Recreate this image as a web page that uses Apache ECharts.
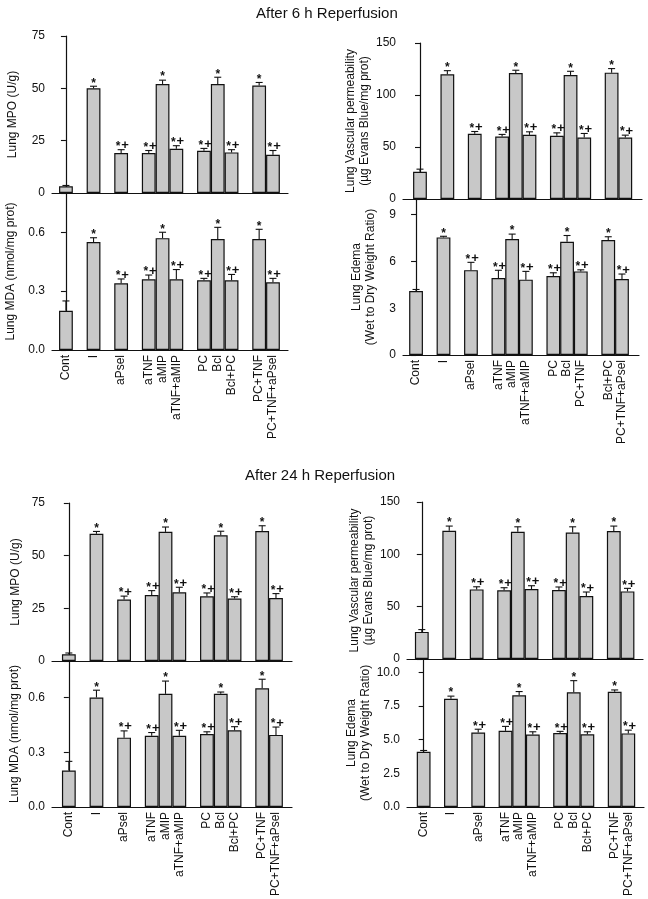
<!DOCTYPE html>
<html><head><meta charset="utf-8">
<script src="https://cdn.jsdelivr.net/npm/echarts@6/dist/echarts.min.js"></script>
<style>html,body{margin:0;padding:0;background:#fff}#c{width:648px;height:899px}</style>
</head><body><div id="c"></div><script>
// ---- data ----
const labelsA = ['Cont','I','aPsel','aTNF','aMIP','aTNF+aMIP','PC','Bcl','Bcl+PC','PC+TNF','PC+TNF+aPsel'];
const labelsB = ['Cont','I','aPsel','aTNF','aMIP','aTNF+aMIP','PC','Bcl','PC+TNF','Bcl+PC','PC+TNF+aPsel'];
const slots = [0,2,4,6,7,8,10,11,12,14,15];
const marks = ['', '*', '*+', '*+', '*', '*+', '*+', '*', '*+', '*', '*+'];

const mpo6 = [3.2, 50.0, 19.1, 19.1, 52.1, 21.1, 20.2, 52.1, 19.4, 51.3, 18.3];
const mpo6Err = [0.4, 1.0, 1.6, 1.2, 1.8, 1.5, 1.1, 3.2, 1.3, 1.5, 2.0];
const mda6 = [0.20, 0.55, 0.34, 0.36, 0.57, 0.36, 0.355, 0.565, 0.355, 0.565, 0.345];
const mda6Err = [0.05, 0.022, 0.022, 0.022, 0.03, 0.05, 0.01, 0.06, 0.03, 0.05, 0.02];
const perm6 = [26.2, 119.9, 62.7, 60.1, 121.2, 61.7, 60.8, 119.3, 59.2, 121.5, 59.2];
const perm6Err = [2.5, 3.5, 2.2, 2.0, 2.6, 2.9, 2.8, 3.5, 3.8, 3.9, 2.2];
const edema6 = [4.1, 7.54, 5.44, 4.93, 7.43, 4.83, 5.06, 7.26, 5.36, 7.37, 4.87];
const edema6Err = [0.1, 0.07, 0.5, 0.5, 0.32, 0.53, 0.21, 0.4, 0.1, 0.21, 0.32];

const mpo24 = [3.2, 60.4, 29.2, 31.3, 61.3, 32.6, 30.7, 59.7, 29.7, 61.7, 29.9];
const mpo24Err = [0.6, 1.1, 1.6, 2.1, 2.3, 2.4, 1.6, 1.9, 0.8, 2.5, 2.1];
const mda24 = [0.20, 0.60, 0.38, 0.39, 0.62, 0.39, 0.40, 0.62, 0.42, 0.65, 0.395];
const mda24Err = [0.05, 0.04, 0.037, 0.018, 0.07, 0.03, 0.012, 0.01, 0.02, 0.05, 0.043];
const perm24 = [25.9, 122.5, 66.5, 65.6, 121.5, 66.8, 65.9, 120.9, 60.1, 122.2, 64.6];
const perm24Err = [2.2, 4.5, 2.5, 2.5, 4.8, 3.2, 2.9, 5.4, 3.9, 4.8, 2.9];
const edema24 = [4.1, 8.04, 5.54, 5.66, 8.3, 5.38, 5.5, 8.52, 5.4, 8.56, 5.47];
const edema24Err = [0.1, 0.2, 0.24, 0.33, 0.28, 0.21, 0.12, 0.87, 0.19, 0.14, 0.24];

const ticksMPO = [0, 25, 50, 75];
const ticksMDA = [0, 0.3, 0.6];
const ticksPerm = [0, 50, 100, 150];
const ticksEdema6 = [0, 3, 6, 9];
const ticksEdema24 = [0, 2.5, 5, 7.5, 10];

const titles = ['After 6 h Reperfusion', 'After 24 h Reperfusion'];

// ---- layout ----
const FONT = '"Liberation Sans", Arial, Helvetica, sans-serif';
const panels = [
  {v: mpo6, e: mpo6Err, names: labelsA, yName: 'Lung MPO (U/g)', yMax: 75, ticks: ticksMPO, dec: 0, box: [52, 36, 236, 157], xr: [-1.01, 16.09], showX: false, gap: 32},
  {v: mda6, e: mda6Err, names: labelsA, yName: 'Lung MDA (nmol/mg prot)', yMax: 0.8, ticks: ticksMDA, dec: 1, box: [52, 193, 236, 157], xr: [-1.01, 16.09], showX: true, gap: 34},
  {v: perm6, e: perm6Err, names: labelsA, yName: 'Lung Vascular permeability\n(µg Evans Blue/mg prot)', yMax: 150, ticks: ticksPerm, dec: 0, box: [403, 43, 239, 156], xr: [-1.24, 16.22], showX: false, gap: 23},
  {v: edema6, e: edema6Err, names: labelsB, yName: 'Lung Edema\n(Wet to Dry Weight Ratio)', yMax: 10, ticks: ticksEdema6, dec: 0, box: [403, 199, 236, 156], xr: [-0.95, 16.24], showX: true, gap: 25},
  {v: mpo24, e: mpo24Err, names: labelsA, yName: 'Lung MPO (U/g)', yMax: 75, ticks: ticksMPO, dec: 0, box: [52, 503, 240, 158], xr: [-1.22, 16.16], showX: false, gap: 29},
  {v: mda24, e: mda24Err, names: labelsA, yName: 'Lung MDA (nmol/mg prot)', yMax: 0.8, ticks: ticksMDA, dec: 1, box: [52, 661, 240, 157], xr: [-1.22, 16.16], showX: true, gap: 30},
  {v: perm24, e: perm24Err, names: labelsA, yName: 'Lung Vascular permeability\n(µg Evans Blue/mg prot)', yMax: 150, ticks: ticksPerm, dec: 0, box: [407, 502, 236, 157], xr: [-1.08, 16.13], showX: false, gap: 30},
  {v: edema24, e: edema24Err, names: labelsA, yName: 'Lung Edema\n(Wet to Dry Weight Ratio)', yMax: 11, ticks: ticksEdema24, dec: 1, box: [407, 659, 237, 156], xr: [-1.22, 16.15], showX: true, gap: 31}
];

const grid = [], xAxis = [], yAxis = [], series = [];
panels.forEach((p, i) => {
  grid.push({left: p.box[0], top: p.box[1], width: p.box[2], height: p.box[3], containLabel: false});
  xAxis.push({
    type: 'value', gridIndex: i, min: p.xr[0], max: p.xr[1],
    splitLine: {show: false}, axisTick: {show: false},
    axisLine: {show: true, lineStyle: {color: '#111', width: 1.2}},
    axisLabel: {
      show: p.showX, customValues: slots, rotate: 90, margin: 5,
      fontFamily: FONT, fontSize: 12, color: '#111',
      formatter: (val) => { const k = slots.indexOf(Math.round(val)); return k >= 0 ? p.names[k] : ''; }
    }
  });
  yAxis.push({
    type: 'value', gridIndex: i, min: 0, max: p.yMax,
    splitLine: {show: false},
    axisLine: {show: true, lineStyle: {color: '#111', width: 1.2}},
    axisTick: {show: true, customValues: p.ticks, length: 5, lineStyle: {color: '#111', width: 1.1}},
    axisLabel: {customValues: p.ticks, margin: 7, fontFamily: FONT, fontSize: 12, color: '#111',
      formatter: (val) => Number(val).toFixed(p.dec)},
    name: p.yName, nameLocation: 'middle', nameGap: p.gap, nameRotate: 90,
    nameTextStyle: {fontFamily: FONT, fontSize: 12, color: '#111', lineHeight: 14}
  });
  series.push({
    type: 'bar', xAxisIndex: i, yAxisIndex: i, barWidth: 13.8, silent: true,
    itemStyle: {color: '#c8c8c8', borderColor: '#111', borderWidth: 1.2},
    data: p.v.map((y, k) => [slots[k], y]), z: 2
  });
  series.push({
    type: 'custom', xAxisIndex: i, yAxisIndex: i, silent: true, z: 3,
    data: p.v.map((y, k) => [slots[k], y, p.e[k]]),
    renderItem: (params, api) => {
      const x = api.value(0), y = api.value(1), e = api.value(2);
      const p0 = api.coord([x, y]), p1 = api.coord([x, y + e]);
      const m = marks[params.dataIndex];
      const st = {stroke: '#111', lineWidth: 1.1};
      const ch = [
        {type: 'line', shape: {x1: p0[0], y1: p0[1], x2: p1[0], y2: p1[1]}, style: st},
        {type: 'line', shape: {x1: p1[0] - 3.5, y1: p1[1], x2: p1[0] + 3.5, y2: p1[1]}, style: st}
      ];
      if (m === '*') {
        ch.push({type: 'text', style: {text: '*', x: p1[0], y: p1[1] - 3, align: 'center', verticalAlign: 'middle', font: 'bold 12px ' + FONT, fill: '#111'}});
      } else if (m === '*+') {
        ch.push({type: 'text', style: {text: '*', x: p1[0] - 3, y: p1[1] - 3, align: 'center', verticalAlign: 'middle', font: 'bold 12px ' + FONT, fill: '#111'}});
        ch.push({type: 'text', style: {text: '+', x: p1[0] + 4, y: p1[1] - 4, align: 'center', verticalAlign: 'middle', font: 'bold 13px ' + FONT, fill: '#111'}});
      }
      return {type: 'group', children: ch};
    }
  });
});

const chart = echarts.init(document.getElementById('c'), null, {renderer: 'canvas'});
chart.setOption({
  animation: false,
  backgroundColor: '#fff',
  title: [
    {text: titles[0], left: 251, top: 1, textStyle: {fontFamily: FONT, fontSize: 15, fontWeight: 'normal', color: '#111'}},
    {text: titles[1], left: 240, top: 463, textStyle: {fontFamily: FONT, fontSize: 15, fontWeight: 'normal', color: '#111'}}
  ],
  grid, xAxis, yAxis, series
});
</script></body></html>
